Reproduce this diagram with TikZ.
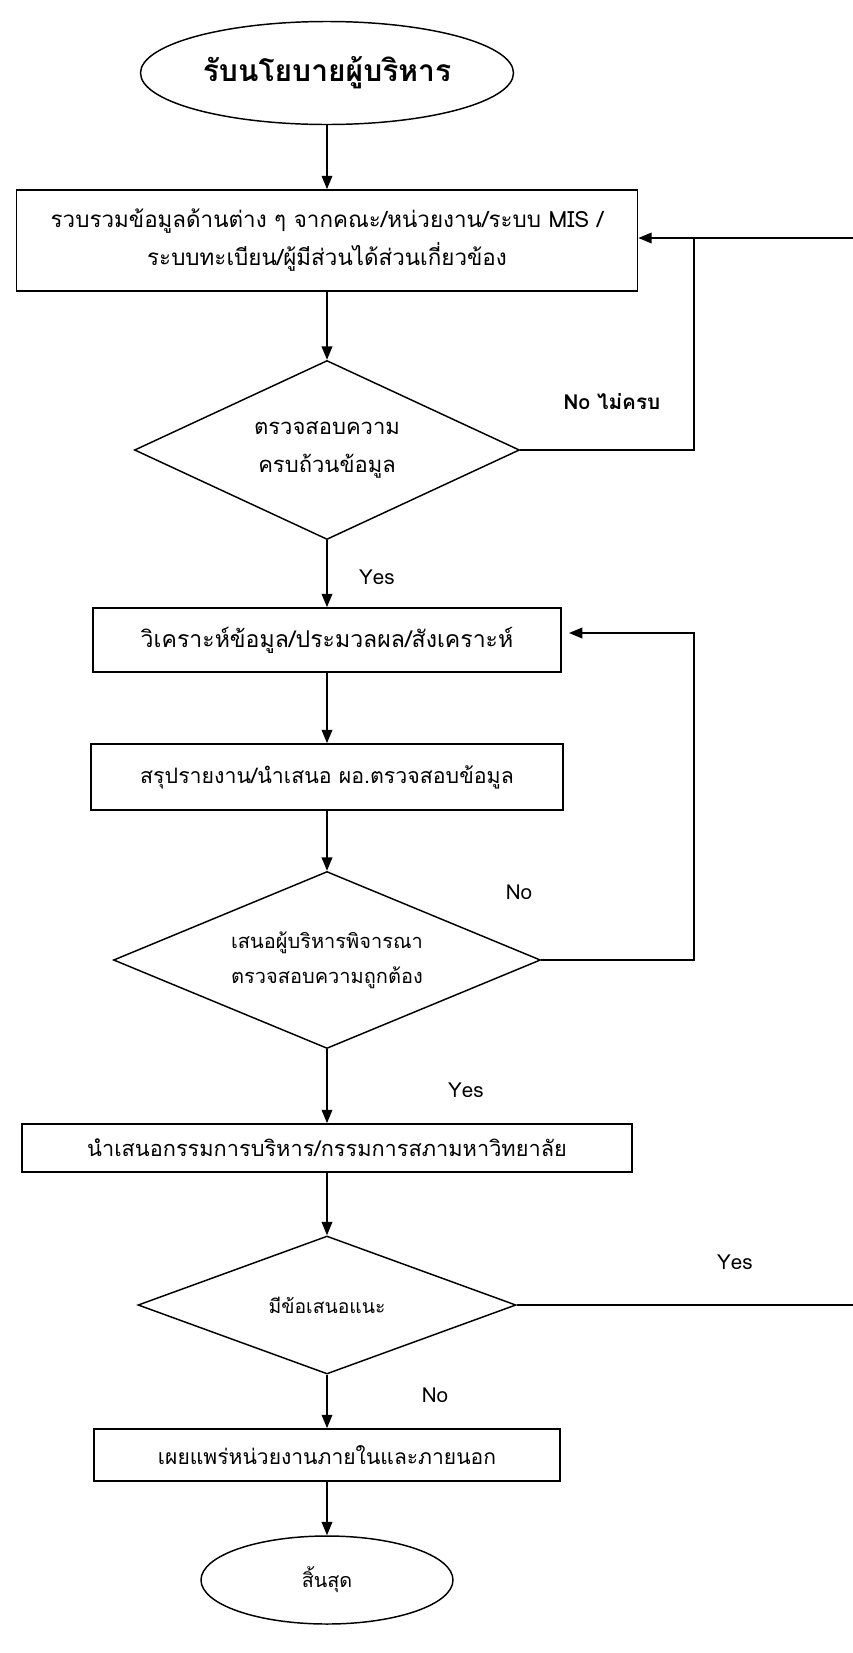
\documentclass[tikz,border=0pt]{standalone}
\usepackage{fontspec}
\newfontfamily\thai[Script=Thai]{Loma}
\usetikzlibrary{shapes.geometric,arrows.meta,calc}
\def\px{0.75pt}
\newcommand{\fs}[2]{\thai\fontsize{#1}{#2}\selectfont}
\begin{document}
\begin{tikzpicture}[x=0.75pt,y=-0.75pt,
 font=\fs{16}{27},
 proc/.style={draw,line width=1.3pt,rectangle,align=center,inner sep=0pt},
 dec/.style={draw,line width=1.1pt,diamond,aspect=2.4,align=center,inner sep=0pt},
 term/.style={draw,line width=1.1pt,ellipse,inner sep=0pt,align=center},
 conn/.style={line width=1.1pt},
 arr/.style={conn,-{Triangle[length=10pt,width=8pt]}},
 lbl/.style={font=\fs{15.5}{18}}
]
\useasboundingbox (0,0) rectangle (853,1653);
\node[term,minimum width=373*\px,minimum height=103*\px,font=\thai\bfseries\fontsize{22.5}{26}\selectfont] (start) at (327,73) {รับนโยบายผู้บริหาร};
\node[proc,minimum width=621*\px,minimum height=101*\px,font=\fs{16.8}{28.5}] (box1) at (327,240.5) {รวบรวมข้อมูลด้านต่าง ๆ จากคณะ/หน่วยงาน/ระบบ MIS /\\ระบบทะเบียน/ผู้มีส่วนได้ส่วนเกี่ยวข้อง};
\node[dec,minimum width=385*\px,minimum height=179*\px,font=\fs{16.5}{29}] (d1) at (327,450) {ตรวจสอบความ\\ครบถ้วนข้อมูล};
\node[proc,minimum width=468*\px,minimum height=64*\px,font=\fs{17.3}{20}] (box2) at (327,640) {วิเคราะห์ข้อมูล/ประมวลผล/สังเคราะห์};
\node[proc,minimum width=472*\px,minimum height=66*\px,font=\fs{16}{20}] (box3) at (327,777) {สรุปรายงาน/นำเสนอ ผอ.ตรวจสอบข้อมูล};
\node[dec,minimum width=427*\px,minimum height=177*\px,font=\fs{15}{26}] (d2) at (327,960) {เสนอผู้บริหารพิจารณา\\ตรวจสอบความถูกต้อง};
\node[proc,minimum width=610*\px,minimum height=48*\px,font=\fs{16.3}{20}] (box4) at (327,1148) {นำเสนอกรรมการบริหาร/กรรมการสภามหาวิทยาลัย};
\node[dec,minimum width=378*\px,minimum height=138*\px,font=\fs{14.5}{20}] (d3) at (327,1305) {มีข้อเสนอแนะ};
\node[proc,minimum width=466*\px,minimum height=52*\px,font=\fs{15.8}{20}] (box5) at (327,1455) {เผยแพร่หน่วยงานภายในและภายนอก};
\node[term,minimum width=252*\px,minimum height=88*\px,font=\fs{14.8}{20}] (end) at (327,1580) {สิ้นสุด};

\draw[arr] (start) -- (box1);
\draw[arr] (box1) -- (d1);
\draw[arr] (d1) -- (box2);
\draw[arr] (box2) -- (box3);
\draw[arr] (box3) -- (d2);
\draw[arr] (d2) -- (box4);
\draw[arr] (box4) -- (d3);
\draw[arr] (d3) -- (box5);
\draw[arr] (box5) -- (end);

\coordinate (r1) at (853,238);
\coordinate (j1) at (694,238);
\draw[arr] (r1) -- (box1.east |- r1);
\draw[conn] (d1.east) -| (j1);
\coordinate (j2) at (694,633);
\coordinate (t2) at (569,633);
\draw[arr] (d2.east) -| (j2) -- (t2);
\coordinate (r3) at (853,1305);
\draw[conn] (d3.east) -- (r3);

\node[lbl,font=\thai\bfseries\fontsize{15.5}{18}\selectfont] (l1) at (612,402) {No ไม่ครบ};
\node[lbl] (l2) at (377,577) {Yes};
\node[lbl] (l3) at (519,892) {No};
\node[lbl] (l4) at (466,1090) {Yes};
\node[lbl] (l5) at (735,1262) {Yes};
\node[lbl] (l6) at (435,1395) {No};
\end{tikzpicture}
\end{document}
